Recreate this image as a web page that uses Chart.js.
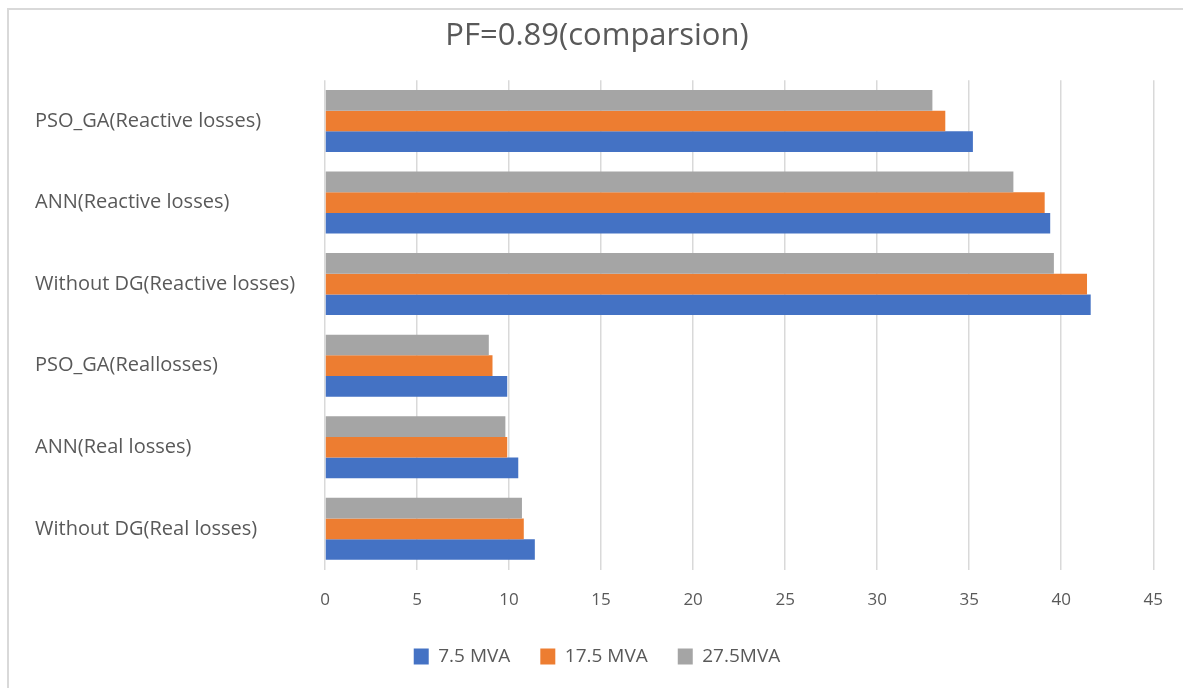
<!DOCTYPE html>
<html>
<head>
<meta charset="utf-8">
<script src="https://cdn.jsdelivr.net/npm/chart.js@4.4.1/dist/chart.umd.min.js"></script>
<style>
  html, body { margin: 0; padding: 0; background: #fff; }
  #wrap { position: absolute; left: 0; top: 0; width: 1183px; height: 688px; }
  #frame { position: absolute; left: 7px; top: 8px; right: 0; bottom: 0;
           border-left: 2px solid #d9d9d9; border-top: 2px solid #d9d9d9; pointer-events: none; }
</style>
</head>
<body>
<div id="wrap"><canvas id="chart"></canvas></div>
<div id="frame"></div>
<script>
// categories, top to bottom as shown
const categories = [
  'PSO_GA(Reactive losses)',
  'ANN(Reactive losses)',
  'Without DG(Reactive losses)',
  'PSO_GA(Reallosses)',
  'ANN(Real losses)',
  'Without DG(Real losses)'
];

const mva75 = [35.2, 39.4, 41.6, 9.9, 10.5, 11.4];
const mva175 = [33.7, 39.1, 41.4, 9.1, 9.9, 10.8];
const mva275 = [33.0, 37.4, 39.6, 8.9, 9.8, 10.7];

const xTicks = [0, 5, 10, 15, 20, 25, 30, 35, 40, 45];

const textColor = '#595959';
const gridColor = '#d9d9d9';

// grey drawn first so it sits on top of each group; legend is reversed
const ctx = document.getElementById('chart').getContext('2d');
new Chart(ctx, {
  type: 'bar',
  data: {
    labels: categories,
    datasets: [
      { label: '27.5MVA', data: mva275, backgroundColor: '#a5a5a5' },
      { label: '17.5 MVA', data: mva175, backgroundColor: '#ed7d31' },
      { label: '7.5 MVA', data: mva75, backgroundColor: '#4472c4' }
    ]
  },
  options: {
    indexAxis: 'y',
    responsive: true,
    maintainAspectRatio: false,
    animation: false,
    categoryPercentage: 0.76,
    barPercentage: 1.0,
    layout: { padding: { left: 35, right: 24, top: 18, bottom: 12 } },
    scales: {
      x: {
        min: 0,
        max: 45,
        afterBuildTicks: scale => { scale.ticks = xTicks.map(v => ({ value: v })); },
        afterFit: scale => { scale.height -= 13; },
        grid: { color: gridColor, lineWidth: 1.5, drawTicks: false },
        border: { display: false },
        ticks: { color: textColor, padding: 20, font: { family: 'Open Sans', size: 17 } }
      },
      y: {
        afterFit: scale => { scale.width = 290; },
        grid: { display: false, drawTicks: false },
        border: { display: false },
        ticks: {
          color: textColor,
          crossAlign: 'far',
          font: { family: 'Open Sans', size: 20 }
        }
      }
    },
    plugins: {
      title: {
        display: true,
        text: 'PF=0.89(comparsion)',
        color: textColor,
        font: { family: 'Open Sans', size: 31, weight: 'normal' },
        padding: { top: 0, bottom: 25 }
      },
      legend: {
        position: 'bottom',
        reverse: true,
        labels: {
          color: textColor,
          boxWidth: 15,
          boxHeight: 16,
          padding: 30,
          font: { family: 'Open Sans', size: 19 }
        }
      },
      tooltip: { enabled: false }
    }
  }
});
</script>
</body>
</html>
